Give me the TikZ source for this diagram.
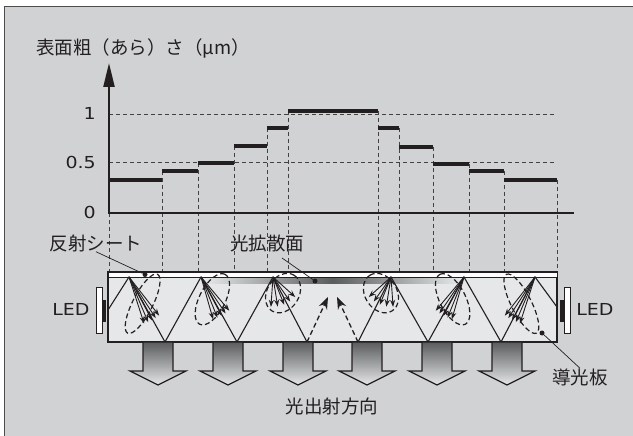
\documentclass[tikz,border=0pt]{standalone}
\usepackage{fontspec}
\setmainfont{Noto Sans CJK JP}
\newfontfamily\latinfont{DejaVu Sans}
\usetikzlibrary{arrows.meta,calc}
\definecolor{panel}{HTML}{D1D2D4}
\definecolor{platefill}{HTML}{E6E7E8}
\definecolor{ink}{HTML}{231F20}
\definecolor{band}{HTML}{5A5B5D}
\newcommand{\wide}[1]{\scalebox{1.15}[1]{#1}}
\begin{document}
\begin{tikzpicture}[x=1pt,y=-1pt,
  lbl/.style={font=\fontsize{18.5}{18.5}\selectfont, text=ink, inner sep=0pt},
  latin/.style={font=\latinfont\fontsize{16.5}{16.5}\selectfont, text=ink, inner sep=0pt},
  dashv/.style={ink!85, line width=0.9pt, dash pattern=on 4pt off 3pt},
  stepbar/.style={ink, line width=4pt},
  axis/.style={ink, line width=2.4pt},
  ray/.style={ink, line width=1.1pt},
  fanarrow/.style={ink, line width=0.9pt, -{Stealth[length=7pt,width=5pt]}},
  lobe/.style={ink, line width=1.2pt, dash pattern=on 5pt off 3pt},
  uparrow/.style={ink, line width=1.3pt, dash pattern=on 5pt off 3pt, -{Stealth[length=12pt,width=9pt]}},
  outarrow/.style={draw=ink, line width=1.2pt, top color=band, bottom color=platefill},
  leader/.style={ink, line width=0.7pt},
  dot/.style={circle, fill=ink, inner sep=0pt, minimum size=5pt},
]
\useasboundingbox (0,0) rectangle (633,436);

% panel
\fill[white] (0,0) rectangle (633,436);
\fill[panel] (4,7) rectangle (633,436);
\draw[ink!80, line width=1pt] (4,436) -- (4,7) -- (633,7);

% ---------- graph ----------
\draw[dashv] (109,114) -- (555,114);
\draw[dashv] (109,162) -- (555,162);

% vertical projections from the step edges down to the plate
\foreach \x/\y in {109/213,162/171,198/163,234/146,267/128,288/111,
                   378/111,399/128,433/147,469/164,504/171,557/180}
  \draw[dashv] (\x,\y) -- (\x,272);

% roughness steps
\foreach \a/\b/\y in {109/162/180,162/198/171,198/234/163,234/267/146,267/288/128,
                      288/378/111,378/399/128,399/433/147,433/469/164,469/504/171,504/557/180}
  \draw[stepbar] (\a,\y) -- (\b,\y);

% axes
\draw[axis] (109,213) -- (574,213);
\draw[axis, -{Triangle[length=24pt,width=11pt]}] (109,214) -- (109,63);

\node[lbl, anchor=west] (ytitle) at (36,48) {表面粗（あら）さ（µm）};
\node[latin, anchor=east] (t1) at (96,113) {\wide{1}};
\node[latin, anchor=east] (t05) at (96,162) {\wide{0.5}};
\node[latin, anchor=east] (t0) at (96,212) {\wide{0}};

% ---------- light guide plate ----------
\draw[ink, line width=1.3pt, fill=platefill] (108,272) rectangle (557,342);
% diffusing surface
\shade[left color=platefill, right color=band] (205,277.5) rectangle (333,283);
\shade[left color=band, right color=platefill] (332,277.5) rectangle (460,283);
% reflection sheet
\draw[ink, line width=1pt, fill=white] (108,272) rectangle (557,277);

% zigzag guided ray
\draw[ray] (108,310) -- (129,277) -- (165,342) -- (201,277) -- (237,342)
  -- (273,277) -- (307,342);
\draw[ray] (358,342) -- (391,277) -- (428,342) -- (464,277) -- (501,342)
  -- (535,277) -- (557,307);
\draw[uparrow] (307,342) -- (328,297);
\draw[uparrow] (358,342) -- (337,297);

% scattering fans: apex x, lobe axis angle, lobe centre distance, radii, arrow angles, arrow length
\foreach \px/\ang/\d/\ra/\rb/\angs/\len in {
   129/63/30/33/10/{52,57,62,67,72}/49,
   201/63/25/28/13/{50,56,62,68,74}/44,
   273/58/19/21/16/{42,55,68,81,94}/30,
   391/122/19/21/16/{138,125,112,99,86}/30,
   464/117/25/28/13/{130,124,118,112,106}/44,
   535/117/30/33/10/{128,123,118,113,108}/49}
{
  \draw[lobe, rotate around={\ang:($(\px,277)+(\ang:\d)$)}]
    ($(\px,277)+(\ang:\d)$) ellipse [x radius=\ra, y radius=\rb];
  \foreach \t in \angs
    \draw[fanarrow] (\px,277) -- ++(\t:\len);
}

% LEDs
\draw[ink, line width=1pt, fill=white] (96,287) rectangle (102,333);
\fill[ink] (102,300) rectangle (106,322);
\draw[ink, line width=1pt, fill=white] (564,287) rectangle (570,333);
\fill[ink] (560,300) rectangle (564,322);
\node[latin] (ledl) at (71,309) {\wide{LED}};
\node[latin] (ledr) at (595,309) {\wide{LED}};

% output arrows
\foreach \c in {158,228,298,367,437,507}
  \draw[outarrow] (\c-15,342) -- (\c-15,371) -- (\c-28,371) -- (\c,385)
    -- (\c+28,371) -- (\c+15,371) -- (\c+15,342) -- cycle;

% labels and leaders
\node[lbl] (refl) at (96,243) {反射シート};
\node[dot] (refldot) at (145,274.5) {};
\draw[leader] (refl.south) -- (refldot);

\node[lbl] (diff) at (267,243) {光拡散面};
\coordinate (diffstart) at (282,258);
\node[dot] (diffdot) at (315,281) {};
\draw[leader] (diffstart) -- (diffdot);

\node[lbl] (guide) at (580,377) {導光板};
\node[dot] (guidedot) at (542,333) {};
\draw[leader] (guide.north) -- (guidedot);

\node[lbl] (out) at (332,406) {光出射方向};
\end{tikzpicture}
\end{document}
